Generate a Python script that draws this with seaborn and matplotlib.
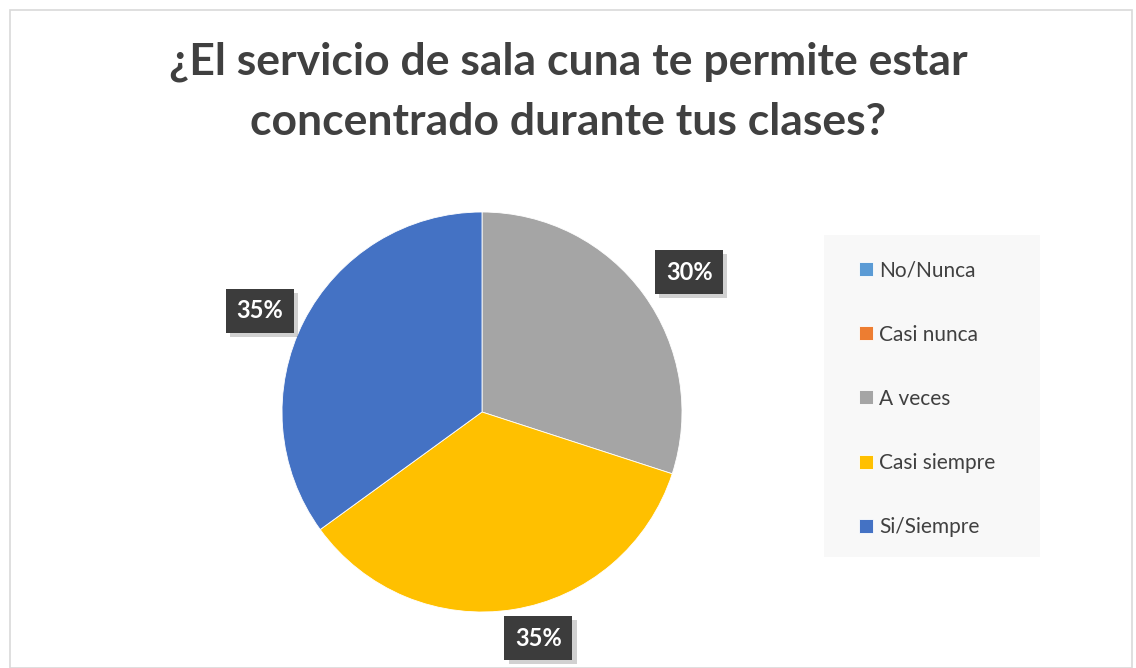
import matplotlib
matplotlib.use('Agg')
import numpy as np
import matplotlib.pyplot as plt
import matplotlib.patheffects as pe
from matplotlib.patches import Rectangle
import seaborn as sns

# Survey answers and share of responses (%)
categories = ['No/Nunca', 'Casi nunca', 'A veces', 'Casi siempre', 'Si/Siempre']
values = [0, 0, 30, 35, 35]
colors = ['#5b9bd5', '#ed7d31', '#a5a5a5', '#ffc000', '#4472c4']
title = '¿El servicio de sala cuna te permite estar\nconcentrado durante tus clases?'

# data label placement: distance from centre (radii) and angle shift (deg)
label_dist = [1.2, 1.2, 1.25, 1.165, 1.22]
label_shift = [0, 0, -2, 5, 2.5]

sns.set_theme(style='white')
plt.rcParams['font.family'] = ['Lato', 'DejaVu Sans']

fig = plt.figure(figsize=(11.36, 6.68), dpi=100)
fig.patch.set_facecolor('white')

# outer chart border
fig.add_artist(Rectangle((10 / 1136, 0), 1122 / 1136, 658 / 668, transform=fig.transFigure,
                         fill=False, edgecolor='#d9d9d9', linewidth=1.2))

fig.text(0.5, 1 - 92 / 668, title, ha='center', va='center', fontsize=32,
         fontweight='bold', color='#404040', linespacing=1.62)

ax = fig.add_axes([282 / 1136, 56 / 668, 400 / 1136, 400 / 668])
wedges, texts = ax.pie(
    values, colors=colors, startangle=90, counterclock=False, radius=1,
    wedgeprops=dict(linewidth=0.6, edgecolor='white'))
ax.set_xlim(-1, 1)
ax.set_ylim(-1, 1)
ax.set_aspect('equal')
ax.set_axis_off()

total = sum(values)
for w, v, d, s in zip(wedges, values, label_dist, label_shift):
    if v == 0:
        continue
    ang = np.deg2rad((w.theta1 + w.theta2) / 2 + s)
    t = ax.text(d * np.cos(ang), d * np.sin(ang), f'{100 * v / total:.0f}%',
                ha='center', va='center', color='white', fontsize=17,
                fontweight='bold', clip_on=False)
    t.set_bbox(dict(boxstyle='square,pad=0.45', facecolor='#3c3c3c', edgecolor='none'))
    t.get_bbox_patch().set_path_effects([
        pe.SimplePatchShadow(offset=(3, -3), shadow_rgbFace='#000000', alpha=0.18),
        pe.Normal()])

# legend panel
fig.add_artist(Rectangle((824 / 1136, 1 - 557 / 668), 216 / 1136, 322 / 668,
                         transform=fig.transFigure, facecolor='#f8f8f8',
                         edgecolor='none', zorder=0))
leg = fig.legend(wedges, categories, loc='upper left',
                 bbox_to_anchor=(849 / 1136, 1 - 250 / 668), frameon=False,
                 fontsize=15, labelcolor='#404040', handlelength=0.65,
                 handleheight=0.65, handletextpad=0.3, labelspacing=2.12,
                 borderpad=0)

fig.savefig('out.png', dpi=100)
